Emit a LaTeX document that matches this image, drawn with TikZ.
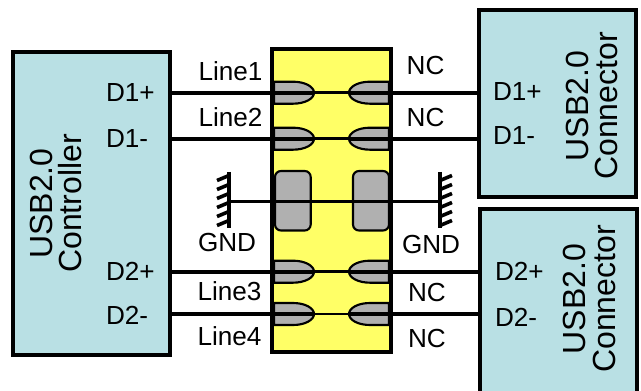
\documentclass[tikz,border=0pt]{standalone}
\usepackage{fontspec}
\setmainfont{Liberation Sans}
\definecolor{boxteal}{HTML}{B9E0E4}
\definecolor{chipyellow}{HTML}{FFFF66}
\definecolor{padgray}{HTML}{B0B0B0}
\tikzset{
  bluebox/.style={draw=black,fill=boxteal,line width=3pt,inner sep=0pt,outer sep=0pt},
  chipbox/.style={line width=3pt,inner sep=0pt,outer sep=0pt},
  lab/.style={inner sep=0pt,outer sep=0pt,anchor=base west,font=\fontsize{19.6pt}{21pt}\selectfont},
  biglab/.style={inner sep=0pt,outer sep=0pt,anchor=base,rotate=90,font=\fontsize{24pt}{26pt}\selectfont},
  thickwire/.style={line width=3pt},
  thinwire/.style={line width=2pt},
  gndwire/.style={line width=2.6pt},
  padout/.style={draw=black,fill=padgray,line width=1.6pt},
  hatch/.style={line width=2.7pt},
}
\begin{document}
\begin{tikzpicture}[x=0.75pt,y=-0.75pt]
\clip (0,0) rectangle (641,391);
\fill[white] (0,0) rectangle (641,391);
% blocks
\node[bluebox,minimum width=118.1pt,minimum height=227.3pt] (ctrl) at (91.75,203.5) {};
\node[bluebox,minimum width=117.75pt,minimum height=140.25pt] (conA) at (557.5,103.5) {};
\node[bluebox,minimum width=118.1pt,minimum height=143.25pt] (conB) at (558.75,304.5) {};
% chip
\node[chipbox,fill=chipyellow,minimum width=88.9pt,minimum height=227.6pt] (chip) at (331.25,200.75) {};
% line levels
\foreach \n/\y in {1/92.7,2/138.7,3/271.7,4/314}{
  \coordinate (lev\n) at (0,\y);
  \path[padout] (274,\y-11) -- (293,\y-11) .. controls (305,\y-11) and (314,\y-6) .. (314,\y)
     .. controls (314,\y+6) and (305,\y+11) .. (293,\y+11) -- (274,\y+11) -- cycle;
  \path[padout] (389,\y-11) -- (370,\y-11) .. controls (358,\y-11) and (349,\y-6) .. (349,\y)
     .. controls (349,\y+6) and (358,\y+11) .. (370,\y+11) -- (389,\y+11) -- cycle;
  \coordinate (tipl\n) at (314,\y);
  \coordinate (tipr\n) at (349,\y);
}
% ground pads
\path[padout,rounded corners=4.5pt] (275,171) rectangle (310.7,230.5);
\path[padout,rounded corners=4.5pt] (353,171) rectangle (389,230.5);
% chip frame
\node[chipbox,draw=black,minimum width=88.9pt,minimum height=227.6pt] (chipf) at (331.25,200.75) {};
% wires
\foreach \n/\b in {1/conA,2/conA,3/conB,4/conB}{
  \draw[thickwire] (ctrl.east |- lev\n) -- (tipl\n);
  \draw[thinwire] (tipl\n) -- (tipr\n);
  \draw[thickwire] (tipr\n) -- (\b.west |- lev\n);
}
% ground symbols
\coordinate (gl) at (229,201.7);
\coordinate (gr) at (440,201.7);
\draw[gndwire] (gl) -- (gr);
\draw[line width=3pt] (gl |- 0,172) -- (gl |- 0,228);
\draw[line width=3pt] (gr |- 0,172) -- (gr |- 0,228);
\foreach \y in {175.5,184.5,193.5,202.5,211.5,220.5}{
  \draw[hatch] (229,\y) -- (217,\y+5);
  \draw[hatch] (440,\y+5) -- (452,\y);
}
% labels
\node[lab] (t1) at (106,102) {D1+};
\node[lab] (t2) at (106,148) {D1-};
\node[lab] (t3) at (106,280.7) {D2+};
\node[lab] (t4) at (106,324) {D2-};
\node[lab] (t5) at (198.5,80.7) {Line1};
\node[lab] (t6) at (198.5,126.7) {Line2};
\node[lab] (t7) at (197.5,300.7) {Line3};
\node[lab] (t8) at (197.5,345) {Line4};
\node[lab] (t9) at (198,252) {GND};
\node[lab] (t10) at (402,253) {GND};
\node[lab] (t11) at (406.7,75) {NC};
\node[lab] (t12) at (406.7,126.7) {NC};
\node[lab] (t13) at (408,301.7) {NC};
\node[lab] (t14) at (408,347) {NC};
\node[lab] (t15) at (493,100.7) {D1+};
\node[lab] (t16) at (493,145) {D1-};
\node[lab] (t17) at (495,280) {D2+};
\node[lab] (t18) at (495,326) {D2-};
\node[biglab] (u1) at (52.7,203.5) {USB2.0};
\node[biglab] (u2) at (81.7,203.5) {Controller};
\node[biglab] (u3) at (588,106) {USB2.0};
\node[biglab] (u4) at (617,106) {Connector};
\node[biglab] (u5) at (585,299) {USB2.0};
\node[biglab] (u6) at (615,299) {Connector};
\end{tikzpicture}
\end{document}
